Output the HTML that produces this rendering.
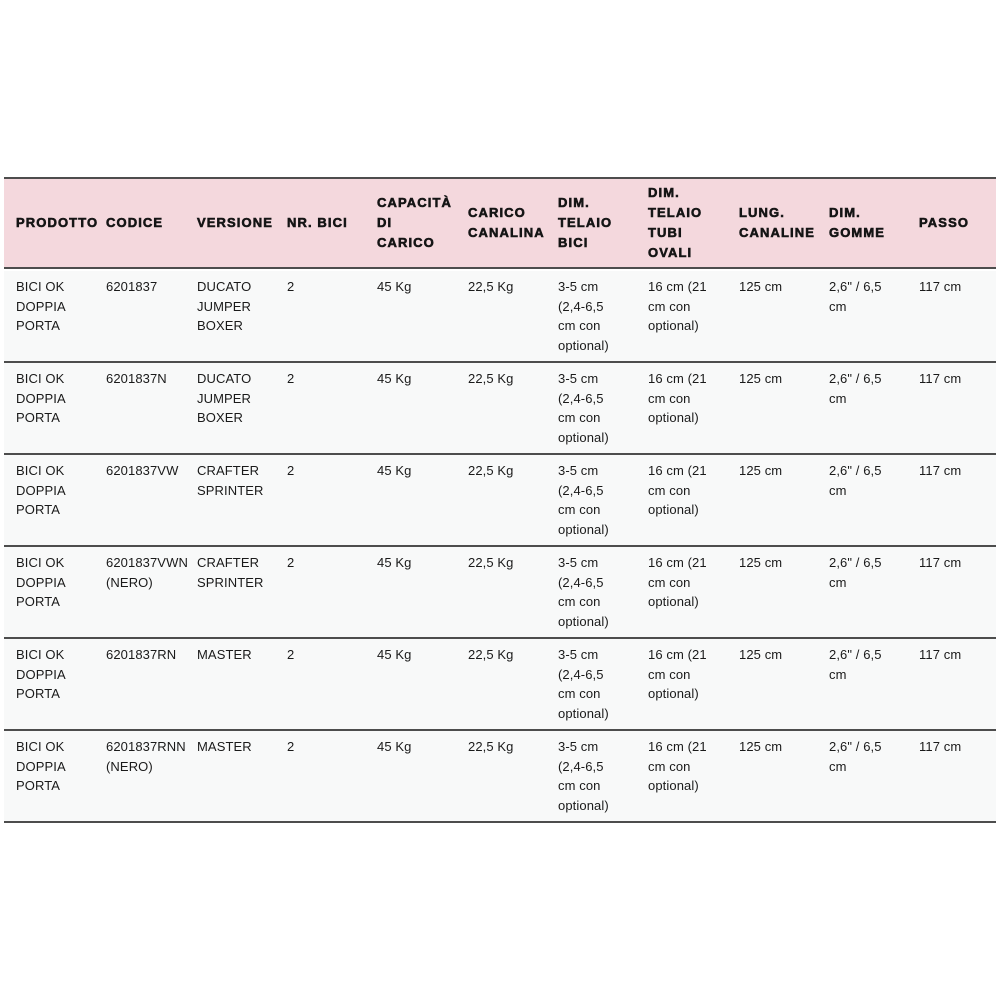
<!DOCTYPE html>
<html><head><meta charset="utf-8">
<style>
html,body{margin:0;padding:0;background:#fff;width:1000px;height:1000px;overflow:hidden}
.hdr{position:absolute;left:4px;top:177px;width:992px;height:92px;background:#f4d8dd;border-top:2px solid #4d4d4d;border-bottom:2px solid #4d4d4d;box-sizing:border-box}
.row{position:absolute;left:4px;width:992px;height:92px;background:#f8f9f9;border-bottom:2px solid #4d4d4d;box-sizing:border-box}
.hc{position:absolute;top:0;height:88px;display:flex;flex-direction:column;justify-content:center;font-family:"Liberation Sans",sans-serif;font-weight:bold;font-size:13px;letter-spacing:1.1px;line-height:20px;color:#151515;white-space:nowrap;-webkit-text-stroke:0.6px #151515}
.c{position:absolute;top:6px;font-family:"Liberation Sans",sans-serif;font-size:13px;line-height:19.7px;color:#1a1a1a;white-space:nowrap;letter-spacing:0.1px}
</style></head><body>
<div class="hdr">
<div class="hc" style="left:12px">PRODOTTO</div>
<div class="hc" style="left:102px">CODICE</div>
<div class="hc" style="left:193px">VERSIONE</div>
<div class="hc" style="left:283px">NR. BICI</div>
<div class="hc" style="left:373px">CAPACITÀ<br>DI<br>CARICO</div>
<div class="hc" style="left:464px">CARICO<br>CANALINA</div>
<div class="hc" style="left:554px">DIM.<br>TELAIO<br>BICI</div>
<div class="hc" style="left:644px">DIM.<br>TELAIO<br>TUBI<br>OVALI</div>
<div class="hc" style="left:735px">LUNG.<br>CANALINE</div>
<div class="hc" style="left:825px">DIM.<br>GOMME</div>
<div class="hc" style="left:915px">PASSO</div>
</div>

<div class="row" style="top:271px">
<div class="c" style="left:12px">BICI OK<br>DOPPIA<br>PORTA</div>
<div class="c" style="left:102px">6201837</div>
<div class="c" style="left:193px">DUCATO<br>JUMPER<br>BOXER</div>
<div class="c" style="left:283px">2</div>
<div class="c" style="left:373px">45 Kg</div>
<div class="c" style="left:464px">22,5 Kg</div>
<div class="c" style="left:554px">3-5 cm<br>(2,4-6,5<br>cm con<br>optional)</div>
<div class="c" style="left:644px">16 cm (21<br>cm con<br>optional)</div>
<div class="c" style="left:735px">125 cm</div>
<div class="c" style="left:825px">2,6" / 6,5<br>cm</div>
<div class="c" style="left:915px">117 cm</div>
</div>

<div class="row" style="top:363px">
<div class="c" style="left:12px">BICI OK<br>DOPPIA<br>PORTA</div>
<div class="c" style="left:102px">6201837N</div>
<div class="c" style="left:193px">DUCATO<br>JUMPER<br>BOXER</div>
<div class="c" style="left:283px">2</div>
<div class="c" style="left:373px">45 Kg</div>
<div class="c" style="left:464px">22,5 Kg</div>
<div class="c" style="left:554px">3-5 cm<br>(2,4-6,5<br>cm con<br>optional)</div>
<div class="c" style="left:644px">16 cm (21<br>cm con<br>optional)</div>
<div class="c" style="left:735px">125 cm</div>
<div class="c" style="left:825px">2,6" / 6,5<br>cm</div>
<div class="c" style="left:915px">117 cm</div>
</div>

<div class="row" style="top:455px">
<div class="c" style="left:12px">BICI OK<br>DOPPIA<br>PORTA</div>
<div class="c" style="left:102px">6201837VW</div>
<div class="c" style="left:193px">CRAFTER<br>SPRINTER</div>
<div class="c" style="left:283px">2</div>
<div class="c" style="left:373px">45 Kg</div>
<div class="c" style="left:464px">22,5 Kg</div>
<div class="c" style="left:554px">3-5 cm<br>(2,4-6,5<br>cm con<br>optional)</div>
<div class="c" style="left:644px">16 cm (21<br>cm con<br>optional)</div>
<div class="c" style="left:735px">125 cm</div>
<div class="c" style="left:825px">2,6" / 6,5<br>cm</div>
<div class="c" style="left:915px">117 cm</div>
</div>

<div class="row" style="top:547px">
<div class="c" style="left:12px">BICI OK<br>DOPPIA<br>PORTA</div>
<div class="c" style="left:102px">6201837VWN<br>(NERO)</div>
<div class="c" style="left:193px">CRAFTER<br>SPRINTER</div>
<div class="c" style="left:283px">2</div>
<div class="c" style="left:373px">45 Kg</div>
<div class="c" style="left:464px">22,5 Kg</div>
<div class="c" style="left:554px">3-5 cm<br>(2,4-6,5<br>cm con<br>optional)</div>
<div class="c" style="left:644px">16 cm (21<br>cm con<br>optional)</div>
<div class="c" style="left:735px">125 cm</div>
<div class="c" style="left:825px">2,6" / 6,5<br>cm</div>
<div class="c" style="left:915px">117 cm</div>
</div>

<div class="row" style="top:639px">
<div class="c" style="left:12px">BICI OK<br>DOPPIA<br>PORTA</div>
<div class="c" style="left:102px">6201837RN</div>
<div class="c" style="left:193px">MASTER</div>
<div class="c" style="left:283px">2</div>
<div class="c" style="left:373px">45 Kg</div>
<div class="c" style="left:464px">22,5 Kg</div>
<div class="c" style="left:554px">3-5 cm<br>(2,4-6,5<br>cm con<br>optional)</div>
<div class="c" style="left:644px">16 cm (21<br>cm con<br>optional)</div>
<div class="c" style="left:735px">125 cm</div>
<div class="c" style="left:825px">2,6" / 6,5<br>cm</div>
<div class="c" style="left:915px">117 cm</div>
</div>

<div class="row" style="top:731px">
<div class="c" style="left:12px">BICI OK<br>DOPPIA<br>PORTA</div>
<div class="c" style="left:102px">6201837RNN<br>(NERO)</div>
<div class="c" style="left:193px">MASTER</div>
<div class="c" style="left:283px">2</div>
<div class="c" style="left:373px">45 Kg</div>
<div class="c" style="left:464px">22,5 Kg</div>
<div class="c" style="left:554px">3-5 cm<br>(2,4-6,5<br>cm con<br>optional)</div>
<div class="c" style="left:644px">16 cm (21<br>cm con<br>optional)</div>
<div class="c" style="left:735px">125 cm</div>
<div class="c" style="left:825px">2,6" / 6,5<br>cm</div>
<div class="c" style="left:915px">117 cm</div>
</div>
</body></html>
